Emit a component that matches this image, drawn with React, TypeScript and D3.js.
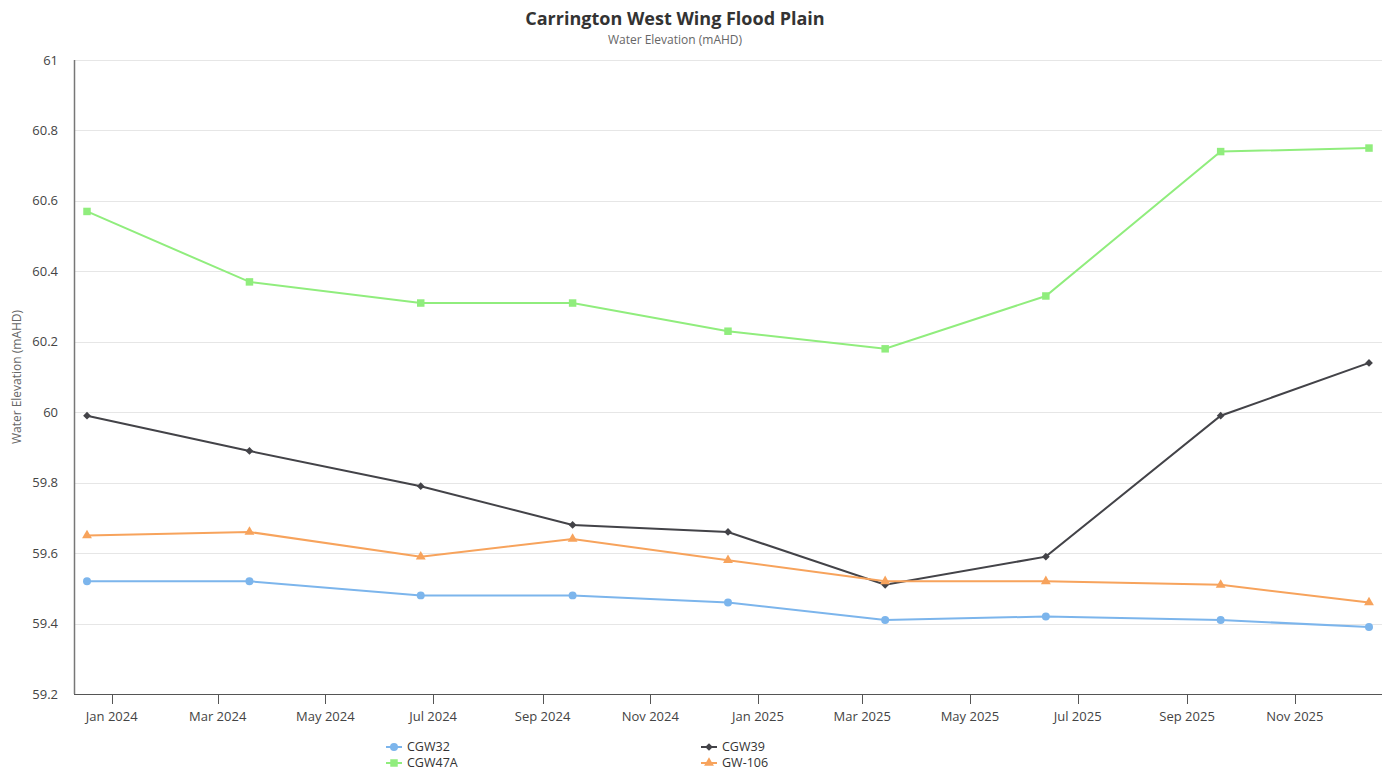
import React, { useEffect, useRef } from 'react';
import * as d3 from 'd3';

const dates = [
  '2023-12-18', '2024-03-19', '2024-06-24', '2024-09-18', '2024-12-15',
  '2025-03-14', '2025-06-13', '2025-09-20', '2025-12-13'
];

const cgw32 = [59.52, 59.52, 59.48, 59.48, 59.46, 59.41, 59.42, 59.41, 59.39];
const cgw39 = [59.99, 59.89, 59.79, 59.68, 59.66, 59.51, 59.59, 59.99, 60.14];
const cgw47a = [60.57, 60.37, 60.31, 60.31, 60.23, 60.18, 60.33, 60.74, 60.75];
const gw106 = [59.65, 59.66, 59.59, 59.64, 59.58, 59.52, 59.52, 59.51, 59.46];

const yTicks = [59.2, 59.4, 59.6, 59.8, 60, 60.2, 60.4, 60.6, 60.8, 61];

// square turned 45deg, like the reference's diamond marker
const diamond = d3.symbolSquare;

const series = [
  { name: 'CGW32', values: cgw32, color: '#7cb5ec', symbol: d3.symbolCircle, size: 50, rotate: 0 },
  { name: 'CGW39', values: cgw39, color: '#434348', symbol: diamond, size: 30, rotate: 45 },
  { name: 'CGW47A', values: cgw47a, color: '#90ed7d', symbol: d3.symbolSquare, size: 56, rotate: 0 },
  { name: 'GW-106', values: gw106, color: '#f7a35c', symbol: d3.symbolTriangle, size: 42, rotate: 0 }
];

const WIDTH = 1391;
const HEIGHT = 771;
const FONT = '"Open Sans", "Noto Sans", sans-serif';

export default function App() {
  const ref = useRef<SVGSVGElement>(null);

  useEffect(() => {
    document.body.style.margin = '0';
    const svg = d3.select(ref.current);
    svg.selectAll('*').remove();

    const plot = { left: 74, right: 1382, top: 60, bottom: 694 };
    const pad = 13; // points are inset from the plot edge

    const parse = d3.timeParse('%Y-%m-%d');
    const parsed = dates.map(d => parse(d) as Date);

    const x = d3
      .scaleTime()
      .domain(d3.extent(parsed) as [Date, Date])
      .range([plot.left + pad, plot.right - pad]);

    const y = d3.scaleLinear().domain([59.2, 61]).range([plot.bottom, plot.top]);

    // grid
    svg
      .append('g')
      .selectAll('line')
      .data(yTicks.slice(1))
      .join('line')
      .attr('x1', plot.left)
      .attr('x2', plot.right)
      .attr('y1', d => Math.round(y(d)) + 0.5)
      .attr('y2', d => Math.round(y(d)) + 0.5)
      .attr('stroke', '#e6e6e6')
      .attr('stroke-width', 1);

    // y axis
    const yAxis = svg.append('g').attr('transform', `translate(${plot.left},0)`);
    yAxis
      .append('line')
      .attr('x1', 0.5)
      .attr('x2', 0.5)
      .attr('y1', plot.top)
      .attr('y2', plot.bottom)
      .attr('stroke', '#777')
      .attr('stroke-width', 1.5);
    yAxis
      .selectAll('text')
      .data(yTicks)
      .join('text')
      .attr('x', -16)
      .attr('y', d => y(d))
      .attr('dy', '0.35em')
      .attr('text-anchor', 'end')
      .attr('font-family', FONT)
      .attr('font-size', 13)
      .attr('fill', '#444')
      .text(d => String(d));

    svg
      .append('text')
      .attr('transform', `translate(21,${(plot.top + plot.bottom) / 2}) rotate(-90)`)
      .attr('text-anchor', 'middle')
      .attr('font-family', FONT)
      .attr('font-size', 12)
      .attr('fill', '#666')
      .text('Water Elevation (mAHD)');

    // x axis
    const xTicks = x.ticks(d3.timeMonth.every(2) as d3.TimeInterval);
    const xAxis = svg.append('g').attr('transform', `translate(0,${plot.bottom})`);
    xAxis
      .append('line')
      .attr('x1', plot.left)
      .attr('x2', plot.right)
      .attr('y1', 0.5)
      .attr('y2', 0.5)
      .attr('stroke', '#555')
      .attr('stroke-width', 1.2);
    xAxis
      .selectAll('line.tick')
      .data(xTicks)
      .join('line')
      .attr('class', 'tick')
      .attr('x1', d => Math.round(x(d)) + 0.5)
      .attr('x2', d => Math.round(x(d)) + 0.5)
      .attr('y1', 0)
      .attr('y2', 10)
      .attr('stroke', '#555');
    xAxis
      .selectAll('text')
      .data(xTicks)
      .join('text')
      .attr('x', d => x(d))
      .attr('y', 27)
      .attr('text-anchor', 'middle')
      .attr('font-family', FONT)
      .attr('font-size', 13)
      .attr('fill', '#444')
      .text(d => d3.timeFormat('%b %Y')(d));

    // series
    const line = d3
      .line<number>()
      .x((_, i) => x(parsed[i]))
      .y(d => y(d));

    series.forEach(s => {
      const g = svg.append('g');
      g.append('path')
        .attr('d', line(s.values))
        .attr('fill', 'none')
        .attr('stroke', s.color)
        .attr('stroke-width', 2);
      g.selectAll('path.pt')
        .data(s.values)
        .join('path')
        .attr('class', 'pt')
        .attr('transform', (d, i) => `translate(${x(parsed[i])},${y(d)}) rotate(${s.rotate})`)
        .attr('d', d3.symbol(s.symbol, s.size)())
        .attr('fill', s.color);
    });

    // title
    svg
      .append('text')
      .attr('x', 675)
      .attr('y', 25)
      .attr('text-anchor', 'middle')
      .attr('font-family', FONT)
      .attr('font-size', 18)
      .attr('font-weight', 700)
      .attr('fill', '#333')
      .text('Carrington West Wing Flood Plain');
    svg
      .append('text')
      .attr('x', 675)
      .attr('y', 44)
      .attr('text-anchor', 'middle')
      .attr('font-family', FONT)
      .attr('font-size', 12)
      .attr('fill', '#666')
      .text('Water Elevation (mAHD)');

    // legend: two columns
    const legendPos = [
      { x: 386, y: 747 },
      { x: 701, y: 747 },
      { x: 386, y: 763 },
      { x: 701, y: 763 }
    ];
    series.forEach((s, i) => {
      const p = legendPos[i];
      const g = svg.append('g').attr('transform', `translate(${p.x},${p.y})`);
      g.append('line')
        .attr('x1', 0)
        .attr('x2', 16)
        .attr('y1', 0)
        .attr('y2', 0)
        .attr('stroke', s.color)
        .attr('stroke-width', 2);
      g.append('path')
        .attr('transform', `translate(8,0) rotate(${s.rotate})`)
        .attr('d', d3.symbol(s.symbol, s.size)())
        .attr('fill', s.color);
      g.append('text')
        .attr('x', 21)
        .attr('y', 0)
        .attr('dy', '0.35em')
        .attr('font-family', FONT)
        .attr('font-size', 12.5)
        .attr('fill', '#333')
        .text(s.name);
    });
  }, []);

  return (
    <svg
      ref={ref}
      width={WIDTH}
      height={HEIGHT}
      style={{ display: 'block', background: '#fff' }}
    />
  );
}
